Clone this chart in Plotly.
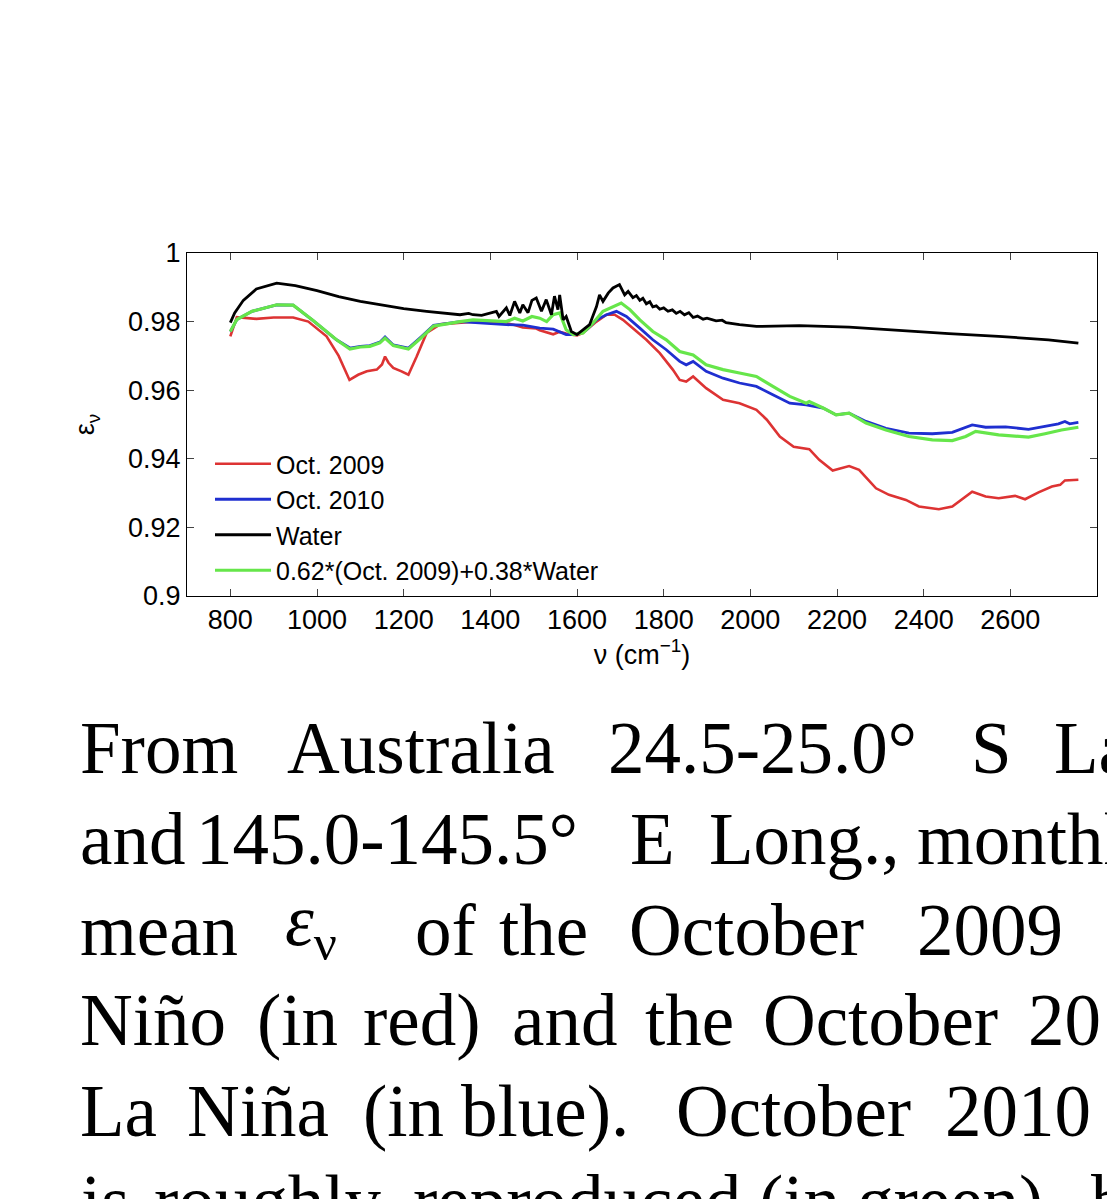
import plotly.graph_objects as go

# ---------------- data ----------------
water_x = [800, 810, 830, 860, 907, 950, 1000, 1050, 1100, 1150, 1200, 1253, 1300, 1330, 1350, 1360, 1380,
           1400, 1414, 1420, 1437, 1445, 1456, 1468, 1475, 1487, 1496, 1506, 1518, 1529, 1541, 1548,
           1556, 1560, 1568, 1575, 1587, 1600, 1614, 1629, 1645, 1652, 1660, 1672, 1683, 1698, 1710,
           1718, 1729, 1737, 1745, 1752, 1760, 1768, 1775, 1783, 1791, 1800, 1810, 1820, 1829, 1838,
           1848, 1858, 1868, 1878, 1891, 1900, 1921, 1935, 1944, 1975, 2014,
           2113, 2228, 2343, 2458, 2573, 2688, 2757]
water_y = [0.9797, 0.9825, 0.9862, 0.9895, 0.9912, 0.9905, 0.9890, 0.9873, 0.9859, 0.9848, 0.9838,
           0.9830, 0.9824, 0.9820, 0.9824, 0.9820, 0.9818, 0.9826, 0.9830, 0.9815, 0.9840, 0.9818,
           0.9859, 0.9825, 0.9849, 0.9826, 0.9862, 0.9869, 0.9830, 0.9864, 0.9820, 0.9874, 0.9835,
           0.9878, 0.9805, 0.9815, 0.9771, 0.9762, 0.9776, 0.9791, 0.9844, 0.9878, 0.9859, 0.9883,
           0.9898, 0.9908, 0.9878, 0.9888, 0.9870, 0.9876, 0.9862, 0.9868, 0.9852, 0.9858, 0.9843,
           0.9846, 0.9836, 0.9840, 0.9830, 0.9834, 0.9824, 0.9830, 0.9820, 0.9826, 0.9812, 0.9816,
           0.9807, 0.9810, 0.9802, 0.9804, 0.9797, 0.9791, 0.9786, 0.9788, 0.9784, 0.9774, 0.9765,
           0.9757, 0.9747, 0.9737]

oct2009_x = [800, 808, 815, 860, 900, 945, 980, 1022, 1050, 1075, 1095, 1115, 1138, 1150, 1157, 1165,
             1176, 1195, 1211, 1230, 1253, 1284, 1330, 1360, 1400, 1437, 1456, 1475, 1506, 1514, 1545,
             1560, 1575, 1600, 1614, 1637, 1645, 1668, 1687, 1706, 1729, 1760, 1791, 1821, 1837, 1852,
             1868, 1898, 1937, 1975, 2014, 2038, 2068, 2100, 2136, 2159, 2190, 2228, 2251, 2290, 2320,
             2359, 2389, 2435, 2466, 2489, 2512, 2543, 2573, 2611, 2634, 2665, 2696, 2715, 2726, 2757]
oct2009_y = [0.9757, 0.9790, 0.9813, 0.9808, 0.9812, 0.9812, 0.9800, 0.9757, 0.9700, 0.9630, 0.9645,
             0.9655, 0.9660, 0.9675, 0.9698, 0.9680, 0.9665, 0.9655, 0.9645, 0.9698, 0.9767, 0.9792,
             0.9798, 0.9800, 0.9797, 0.9795, 0.9790, 0.9783, 0.9780, 0.9775, 0.9763, 0.9770, 0.9765,
             0.9760, 0.9767, 0.9790, 0.9800, 0.9820, 0.9820, 0.9805, 0.9781, 0.9747, 0.9708, 0.9660,
             0.9630, 0.9625, 0.9640, 0.9606, 0.9572, 0.9562, 0.9543, 0.9514, 0.9465, 0.9435, 0.9428,
             0.9397, 0.9366, 0.9379, 0.9368, 0.9314, 0.9295, 0.9280, 0.9261, 0.9253, 0.9261, 0.9282,
             0.9304, 0.9290, 0.9285, 0.9292, 0.9282, 0.9302, 0.9319, 0.9324, 0.9337, 0.9339]

oct2010_x = [800, 815, 850, 907, 945, 991, 1045, 1076, 1100, 1122, 1145, 1157, 1176, 1211, 1238, 1269,
             1330, 1360, 1437, 1475, 1514, 1545, 1575, 1598, 1622, 1645, 1668, 1691, 1714, 1745, 1775,
             1806, 1837, 1852, 1868, 1898, 1937, 1975, 2014, 2052, 2091, 2129, 2168, 2198, 2228, 2267,
             2313, 2366, 2420, 2466, 2512, 2543, 2589, 2642, 2680, 2711, 2726, 2737, 2757]
oct2010_y = [0.9771, 0.9806, 0.9830, 0.9849, 0.9848, 0.9803, 0.9747, 0.9723, 0.9728, 0.9730, 0.9740,
             0.9755, 0.9732, 0.9723, 0.9753, 0.9789, 0.9800, 0.9797, 0.9791, 0.9790, 0.9781, 0.9778,
             0.9762, 0.9762, 0.9776, 0.9805, 0.9820, 0.9830, 0.9815, 0.9781, 0.9747, 0.9718, 0.9684,
             0.9674, 0.9684, 0.9655, 0.9635, 0.9621, 0.9611, 0.9587, 0.9562, 0.9557, 0.9548, 0.9528,
             0.9533, 0.9509, 0.9489, 0.9475, 0.9473, 0.9477, 0.9499, 0.9492, 0.9493, 0.9486, 0.9496,
             0.9502, 0.9509, 0.9502, 0.9506]

mix_x = [800, 815, 850, 907, 945, 991, 1045, 1076, 1100, 1122, 1145, 1157, 1176, 1211, 1238, 1269,
         1330, 1360, 1437, 1456, 1475, 1496, 1514, 1530, 1545, 1560, 1575, 1591, 1614, 1637, 1660,
         1683, 1702, 1722, 1745, 1775, 1806, 1837, 1868, 1898, 1937, 1975, 2014, 2052, 2091, 2129,
         2136, 2168, 2198, 2228, 2267, 2313, 2366, 2420, 2466, 2497, 2520, 2573, 2642, 2680, 2718, 2757]
mix_y = [0.9771, 0.9806, 0.9830, 0.9849, 0.9848, 0.9803, 0.9747, 0.9720, 0.9726, 0.9728, 0.9738,
         0.9752, 0.9730, 0.9720, 0.9750, 0.9787, 0.9800, 0.9805, 0.9800, 0.9810, 0.9802, 0.9815,
         0.9810, 0.9800, 0.9820, 0.9825, 0.9776, 0.9762, 0.9767, 0.9796, 0.9830, 0.9844, 0.9854,
         0.9835, 0.9805, 0.9771, 0.9747, 0.9713, 0.9703, 0.9674, 0.9660, 0.9650, 0.9640, 0.9611,
         0.9582, 0.9562, 0.9567, 0.9548, 0.9528, 0.9533, 0.9504, 0.9484, 0.9465, 0.9455, 0.9453,
         0.9465, 0.9480, 0.9470, 0.9463, 0.9473, 0.9484, 0.9492]

series_names = ["Oct. 2009", "Oct. 2010", "Water", "0.62*(Oct. 2009)+0.38*Water"]

x_ticks = [800, 1000, 1200, 1400, 1600, 1800, 2000, 2200, 2400, 2600, 2800]
y_ticks = [0.9, 0.92, 0.94, 0.96, 0.98, 1.0]
y_tick_text = ["0.9", "0.92", "0.94", "0.96", "0.98", "1"]

caption_lines = [
    ["From", "Australia", "24.5-25.0°", "S", "Lat."],
    ["and", "145.0-145.5°", "E", "Long.,", "monthly"],
    ["mean", "<i>ε</i><sub>ν</sub>", "of", "the", "October", "2009"],
    ["Niño", "(in", "red)", "and", "the", "October", "2010"],
    ["La", "Niña", "(in", "blue).", "October", "2010"],
    ["is", "roughly", "reproduced", "(in", "green)", "by"],
]
caption_word_x = [
    [79, 286, 607, 970, 1053],
    [79, 195, 629, 708, 916],
    [79, 284, 414, 498, 628, 916],
    [79, 256, 362, 511, 644, 762, 1027],
    [79, 186, 362, 460, 675, 944],
    [80, 153, 412, 758, 856, 1090],
]
caption_baselines = [773, 864, 955, 1045, 1136, 1226]

# ---------------- figure ----------------
W, H = 1107, 1199
L, R, T, B = 187, 1097, 253, 596
PW, PH = R - L, B - T

def px_to_paper(px, py):
    return (px - L) / PW, (B - py) / PH

fig = go.Figure()
styles = {
    "Oct. 2009": dict(color="#dd3333", width=2.6),
    "Oct. 2010": dict(color="#1f2fd0", width=2.8),
    "0.62*(Oct. 2009)+0.38*Water": dict(color="#66e64a", width=3.2),
    "Water": dict(color="#000000", width=2.8),
}
ranks = {"Oct. 2009": 1, "Oct. 2010": 2, "Water": 3, "0.62*(Oct. 2009)+0.38*Water": 4}
data = {
    "Oct. 2009": (oct2009_x, oct2009_y),
    "Oct. 2010": (oct2010_x, oct2010_y),
    "0.62*(Oct. 2009)+0.38*Water": (mix_x, mix_y),
    "Water": (water_x, water_y),
}
for name in ["Oct. 2009", "Oct. 2010", "0.62*(Oct. 2009)+0.38*Water", "Water"]:
    xs, ys = data[name]
    fig.add_trace(go.Scatter(x=xs, y=ys, mode="lines", name=name,
                             line=styles[name], legendrank=ranks[name]))

axis_font = dict(family="Liberation Sans, Arial, sans-serif", size=27, color="black")
legend_font = dict(family="Liberation Sans, Arial, sans-serif", size=25, color="black")
fig.update_xaxes(range=[700, 2800], tickvals=x_ticks, ticks="inside", ticklen=7,
                 showline=True, linecolor="black", linewidth=1, mirror="ticks",
                 showgrid=False, zeroline=False, tickfont=axis_font,
                 title=dict(text="ν (cm<sup>−1</sup>)", font=axis_font, standoff=7))
fig.update_yaxes(range=[0.9, 1.0], tickvals=y_ticks, ticktext=y_tick_text, ticks="inside",
                 ticklen=7, showline=True, linecolor="black", linewidth=1, mirror="ticks",
                 showgrid=False, zeroline=False, tickfont=axis_font,
                 title=dict(text="ε<sub>ν</sub>", font=axis_font, standoff=25))

lx, ly = px_to_paper(210, 441)
fig.update_layout(
    width=W, height=H,
    margin=dict(l=L, r=W - R, t=T, b=H - B),
    plot_bgcolor="white", paper_bgcolor="white",
    showlegend=True,
    legend=dict(x=lx, y=ly, xanchor="left", yanchor="top", bgcolor="rgba(0,0,0,0)",
                font=legend_font, itemwidth=56, tracegroupgap=0),
)

cap_font = dict(family="Liberation Serif, Times New Roman, serif", size=73, color="black")
for words, xs, base in zip(caption_lines, caption_word_x, caption_baselines):
    for w, x in zip(words, xs):
        ax, ay = px_to_paper(x, base + 17)
        fig.add_annotation(text=w, x=ax, y=ay, xref="paper", yref="paper",
                           xanchor="left", yanchor="bottom", showarrow=False,
                           font=cap_font, borderpad=0)

fig.write_html("out.html")
